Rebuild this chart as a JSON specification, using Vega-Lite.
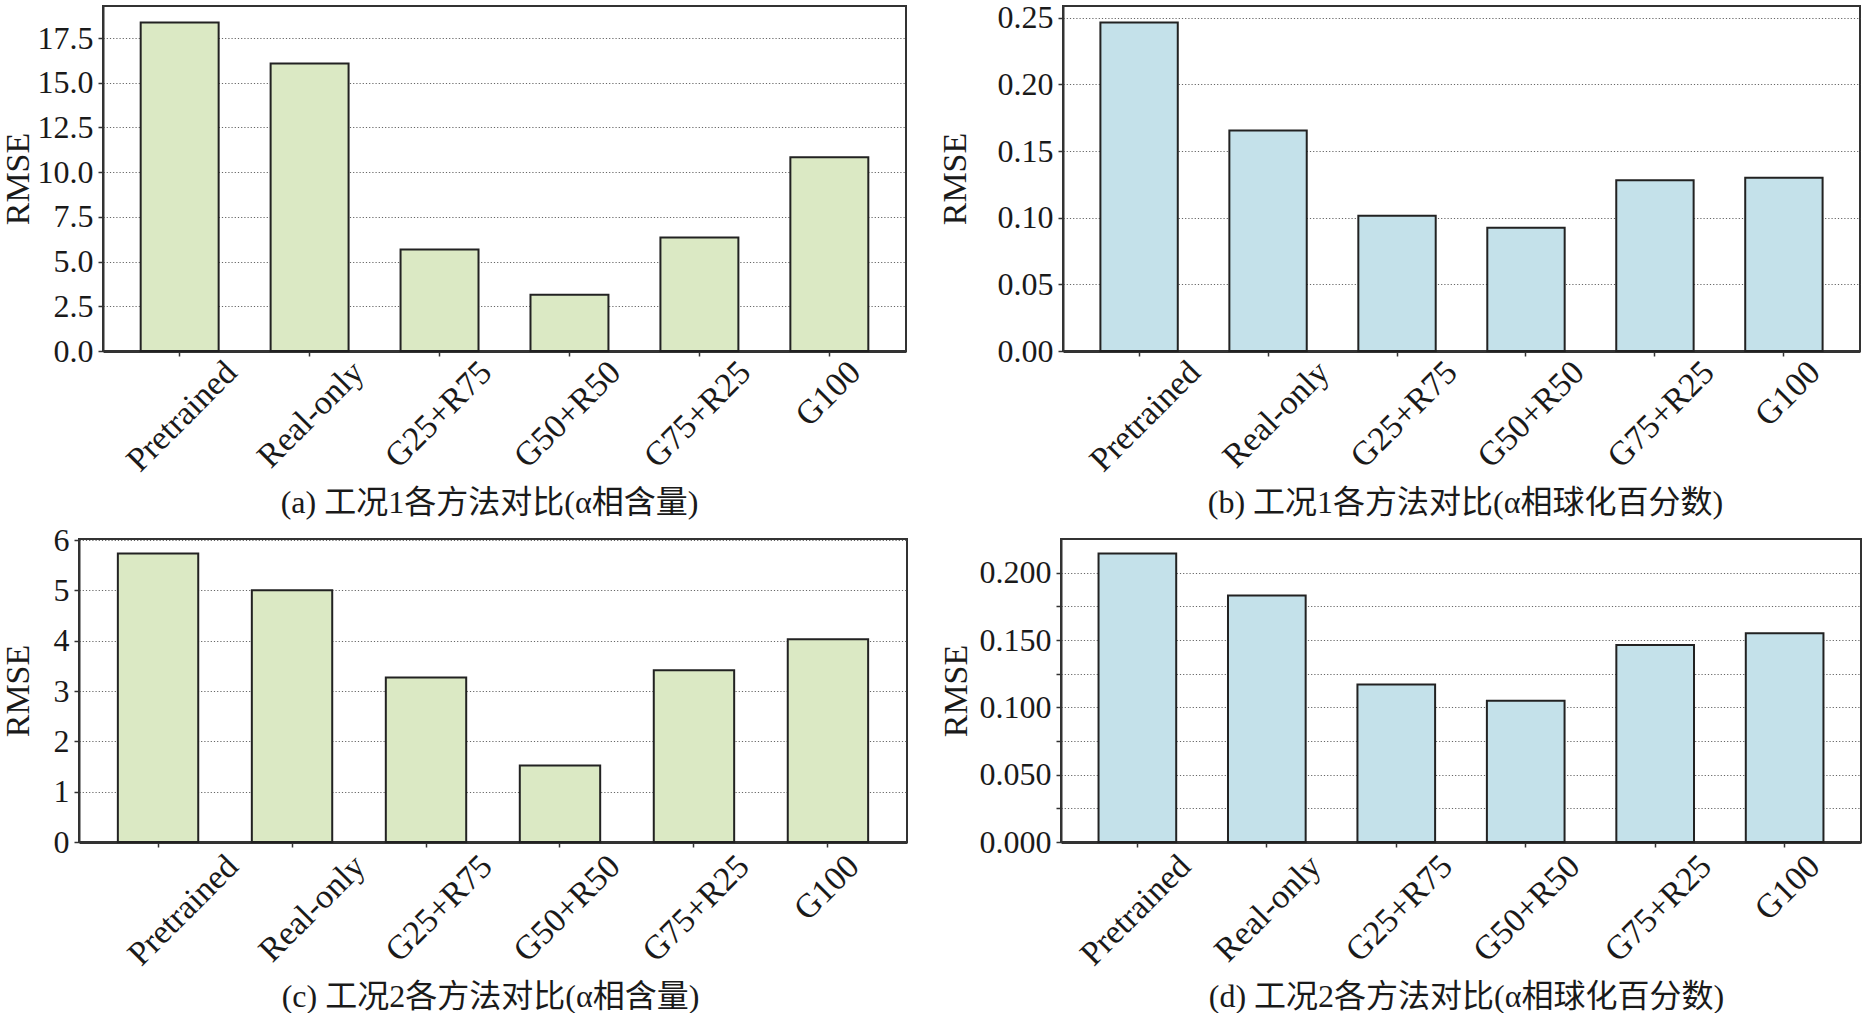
{
  "$schema": "https://vega.github.io/schema/vega-lite/v6.json",
  "padding": {"left": -7, "top": 0, "right": 0, "bottom": 0},
  "background": "white",
  "datasets": {
    "a": [
      {"method": "Pretrained", "rmse": 18.37},
      {"method": "Real-only", "rmse": 16.08},
      {"method": "G25+R75", "rmse": 5.67},
      {"method": "G50+R50", "rmse": 3.14},
      {"method": "G75+R25", "rmse": 6.34},
      {"method": "G100", "rmse": 10.83}
    ],
    "b": [
      {"method": "Pretrained", "rmse": 0.2465},
      {"method": "Real-only", "rmse": 0.1655},
      {"method": "G25+R75", "rmse": 0.1014},
      {"method": "G50+R50", "rmse": 0.0925},
      {"method": "G75+R25", "rmse": 0.128},
      {"method": "G100", "rmse": 0.130}
    ],
    "c": [
      {"method": "Pretrained", "rmse": 5.73},
      {"method": "Real-only", "rmse": 5.0},
      {"method": "G25+R75", "rmse": 3.27},
      {"method": "G50+R50", "rmse": 1.52},
      {"method": "G75+R25", "rmse": 3.41},
      {"method": "G100", "rmse": 4.03}
    ],
    "d": [
      {"method": "Pretrained", "rmse": 0.2143},
      {"method": "Real-only", "rmse": 0.183},
      {"method": "G25+R75", "rmse": 0.117},
      {"method": "G50+R50", "rmse": 0.1049},
      {"method": "G75+R25", "rmse": 0.1462},
      {"method": "G100", "rmse": 0.155}
    ],
    "blank": [{}]
  },
  "spacing": 4,
  "vconcat": [
    {
      "spacing": 0,
      "hconcat": [
        {"width": 1, "height": 1, "data": {"name": "blank"}, "mark": {"type": "point", "opacity": 0}, "view": {"stroke": null}},
        {
          "width": 803,
          "height": 345,
          "data": {"name": "a"},
          "mark": {"type": "bar", "fill": "#dbe9c4", "stroke": "#222222", "strokeWidth": 2},
          "encoding": {
            "x": {
              "field": "method", "type": "nominal", "sort": null,
              "scale": {"paddingInner": 0.4, "paddingOuter": 0.29},
              "axis": {
                "title": "(a) 工况1各方法对比(α相含量)",
                "titleX": 386, "titleY": 136,
                "labelOffset": {"condition": [
                  {"test": "datum.value === 'Pretrained'", "value": 52},
                  {"test": "datum.value === 'Real-only'", "value": 49},
                  {"test": "datum.value === 'G25+R75'", "value": 47},
                  {"test": "datum.value === 'G50+R50'", "value": 46},
                  {"test": "datum.value === 'G75+R25'", "value": 46}
                ], "value": 26}
              }
            },
            "y": {
              "field": "rmse", "type": "quantitative",
              "scale": {"domain": [0, 19.29], "nice": false, "zero": true},
              "axis": {
                "title": "RMSE",
                "values": [0, 2.5, 5, 7.5, 10, 12.5, 15, 17.5],
                "format": ".1f",
                "minExtent": 68, "maxExtent": 68, "titlePadding": 0
              }
            }
          }
        },
        {"width": 30, "height": 1, "data": {"name": "blank"}, "mark": {"type": "point", "opacity": 0}, "view": {"stroke": null}},
        {
          "width": 797,
          "height": 345,
          "data": {"name": "b"},
          "mark": {"type": "bar", "fill": "#c4e1ea", "stroke": "#222222", "strokeWidth": 2},
          "encoding": {
            "x": {
              "field": "method", "type": "nominal", "sort": null,
              "scale": {"paddingInner": 0.4, "paddingOuter": 0.29},
              "axis": {
                "title": "(b) 工况1各方法对比(α相球化百分数)",
                "titleX": 402, "titleY": 136,
                "labelOffset": {"condition": [
                  {"test": "datum.value === 'Pretrained'", "value": 56},
                  {"test": "datum.value === 'Real-only'", "value": 56},
                  {"test": "datum.value === 'G25+R75'", "value": 55},
                  {"test": "datum.value === 'G50+R50'", "value": 53},
                  {"test": "datum.value === 'G75+R25'", "value": 54}
                ], "value": 31}
              }
            },
            "y": {
              "field": "rmse", "type": "quantitative",
              "scale": {"domain": [0, 0.2588], "nice": false, "zero": true},
              "axis": {
                "title": "RMSE",
                "values": [0, 0.05, 0.1, 0.15, 0.2, 0.25],
                "format": ".2f",
                "minExtent": 72, "maxExtent": 72, "titlePadding": 19
              }
            }
          }
        }
      ]
    },
    {
      "spacing": 0,
      "hconcat": [
        {"width": 1, "height": 1, "data": {"name": "blank"}, "mark": {"type": "point", "opacity": 0}, "view": {"stroke": null}},
        {
          "width": 828,
          "height": 303,
          "data": {"name": "c"},
          "mark": {"type": "bar", "fill": "#dbe9c4", "stroke": "#222222", "strokeWidth": 2},
          "encoding": {
            "x": {
              "field": "method", "type": "nominal", "sort": null,
              "scale": {"paddingInner": 0.4, "paddingOuter": 0.29},
              "axis": {
                "title": "(c) 工况2各方法对比(α相含量)",
                "titleX": 411, "titleY": 139,
                "labelPadding": 14,
                "labelOffset": {"condition": [
                  {"test": "datum.value === 'Pretrained'", "value": 75},
                  {"test": "datum.value === 'Real-only'", "value": 68},
                  {"test": "datum.value === 'G25+R75'", "value": 61},
                  {"test": "datum.value === 'G50+R50'", "value": 55},
                  {"test": "datum.value === 'G75+R25'", "value": 50}
                ], "value": 26}
              }
            },
            "y": {
              "field": "rmse", "type": "quantitative",
              "scale": {"domain": [0, 6.02], "nice": false, "zero": true},
              "axis": {
                "title": "RMSE",
                "values": [0, 1, 2, 3, 4, 5, 6],
                "format": "d",
                "minExtent": 27, "maxExtent": 27, "titlePadding": 17
              }
            }
          }
        },
        {"width": 30, "height": 1, "data": {"name": "blank"}, "mark": {"type": "point", "opacity": 0}, "view": {"stroke": null}},
        {
          "width": 800,
          "height": 303,
          "data": {"name": "d"},
          "mark": {"type": "bar", "fill": "#c4e1ea", "stroke": "#222222", "strokeWidth": 2},
          "encoding": {
            "x": {
              "field": "method", "type": "nominal", "sort": null,
              "scale": {"paddingInner": 0.4, "paddingOuter": 0.29},
              "axis": {
                "title": "(d) 工况2各方法对比(α相球化百分数)",
                "titleX": 405, "titleY": 139,
                "labelPadding": 14,
                "labelOffset": {"condition": [
                  {"test": "datum.value === 'Pretrained'", "value": 48},
                  {"test": "datum.value === 'Real-only'", "value": 49},
                  {"test": "datum.value === 'G25+R75'", "value": 51},
                  {"test": "datum.value === 'G50+R50'", "value": 49},
                  {"test": "datum.value === 'G75+R25'", "value": 51}
                ], "value": 30}
              }
            },
            "y": {
              "field": "rmse", "type": "quantitative",
              "scale": {"domain": [0, 0.225], "nice": false, "zero": true},
              "axis": {
                "title": "RMSE",
                "values": [0, 0.025, 0.05, 0.075, 0.1, 0.125, 0.15, 0.175, 0.2],
                "labelExpr": "round(datum.value * 1000) % 50 === 0 ? format(datum.value, '.3f') : ''",
                "minExtent": 78, "maxExtent": 78, "titlePadding": 10
              }
            }
          }
        }
      ]
    }
  ],
  "config": {
    "font": "Liberation Serif, Noto Sans CJK SC",
    "view": {"stroke": "#333333", "strokeWidth": 2},
    "axis": {
      "domainColor": "#333333",
      "domainWidth": 2,
      "tickColor": "#333333",
      "tickWidth": 1.5,
      "tickSize": 5,
      "labelColor": "#1a1a1a",
      "titleColor": "#1a1a1a",
      "labelFont": "Liberation Serif",
      "titleFont": "Liberation Serif, Noto Sans CJK SC",
      "labelFlush": false,
      "labelOverlap": false,
      "labelBound": false
    },
    "axisX": {
      "domainWidth": 3,
      "grid": false,
      "labelAngle": -45,
      "labelAlign": "right",
      "labelBaseline": "middle",
      "labelFontSize": 34,
      "labelPadding": 11,
      "titleFontSize": 32,
      "titleFontWeight": "normal",
      "titleBaseline": "top",
      "titleAlign": "center",
      "titleAngle": 0
    },
    "axisY": {
      "grid": true,
      "gridColor": "#666666",
      "gridDash": [1.2, 2],
      "gridWidth": 1,
      "labelFontSize": 32,
      "labelPadding": 5,
      "titleFontSize": 34,
      "titleFontWeight": "normal"
    }
  }
}
